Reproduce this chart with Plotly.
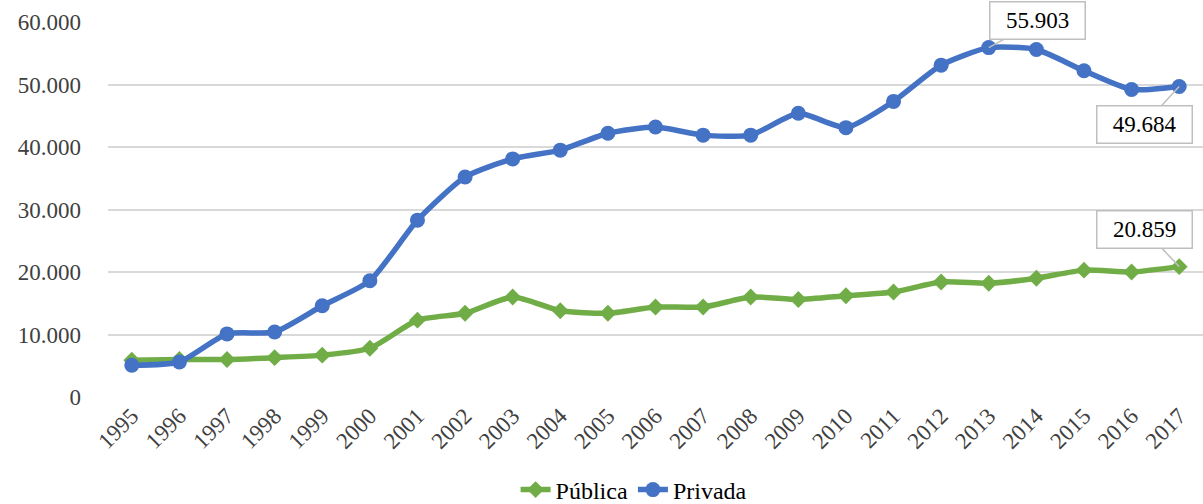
import plotly.graph_objects as go

years = list(range(1995, 2018))
publica = [5900, 6000, 6000, 6300, 6700, 7800, 12300, 13400, 16000, 13800, 13400, 14400,
           14400, 16000, 15600, 16200, 16800, 18400, 18200, 19000, 20300, 20000, 20859]
privada = [5100, 5600, 10100, 10400, 14600, 18600, 28300, 35200, 38100, 39500, 42200, 43200,
           41900, 41900, 45400, 43100, 47300, 53100, 55903, 55600, 52200, 49200, 49684]
tick_vals = [0, 10000, 20000, 30000, 40000, 50000, 60000]
tick_text = ["0", "10.000", "20.000", "30.000", "40.000", "50.000", "60.000"]

GREEN = "#70AD47"
BLUE = "#4472C4"
FONT = "Liberation Serif"

fig = go.Figure()
fig.add_trace(go.Scatter(
    x=years, y=publica, name="Pública", mode="lines+markers",
    line=dict(color=GREEN, width=5.5, shape="spline", smoothing=0.6),
    marker=dict(symbol="diamond", size=13, color=GREEN),
    cliponaxis=False,
))
fig.add_trace(go.Scatter(
    x=years, y=privada, name="Privada", mode="lines+markers",
    line=dict(color=BLUE, width=5.5, shape="spline", smoothing=0.6),
    marker=dict(symbol="circle", size=15, color=BLUE),
    cliponaxis=False,
))

def callout(x, y, text, ax, ay):
    fig.add_annotation(
        x=x, y=y, text=text, showarrow=True, arrowhead=0, arrowwidth=1.5,
        arrowcolor="#bfbfbf", ax=ax, ay=ay, bgcolor="white",
        bordercolor="#bfbfbf", borderwidth=1.5, width=92, height=34,
        font=dict(family=FONT, size=23, color="#000000"),
    )

callout(2013, privada[18], "55.903", 49, -27)
callout(2017, privada[22], "49.684", -35, 38)
callout(2017, publica[22], "20.859", -35, -37)

fig.update_layout(
    width=1203, height=504,
    margin=dict(l=108, r=0, t=22, b=107, autoexpand=False),
    paper_bgcolor="white", plot_bgcolor="white",
    font=dict(family=FONT, size=23, color="#404040"),
    showlegend=True,
    legend=dict(orientation="h", x=0.48, xanchor="center", y=-0.248, yanchor="middle",
                font=dict(family=FONT, size=24, color="#000000"),
                tracegroupgap=0),
    xaxis=dict(range=[1994.5, 2017.5], tickmode="array", tickvals=years,
               ticktext=[str(y) for y in years], tickangle=-45, showgrid=False,
               zeroline=False, showline=False, ticks="", automargin=False,
               tickfont=dict(family=FONT, size=23, color="#404040")),
    yaxis=dict(range=[0, 60000], tickmode="array", tickvals=tick_vals, ticktext=tick_text,
               showgrid=True, gridcolor="#d9d9d9", gridwidth=2, zeroline=False,
               showline=False, ticks="", ticklen=0, automargin=False,
               ticklabelstandoff=26,
               tickfont=dict(family=FONT, size=23, color="#404040")),
)
fig.write_html("out.html", config={"displayModeBar": False},
               post_script="document.body.style.margin='0';")
